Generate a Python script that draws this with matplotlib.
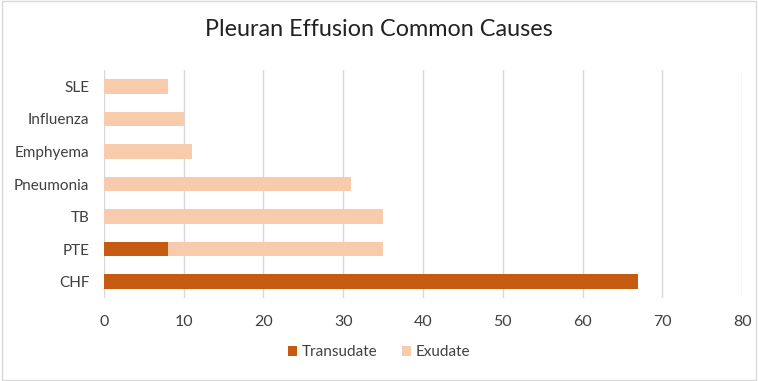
import matplotlib
matplotlib.use("Agg")
import matplotlib.pyplot as plt
from matplotlib.patches import Rectangle

plt.rcParams["font.family"] = ["Lato", "DejaVu Sans"]

# data
causes = ["CHF", "PTE", "TB", "Pneumonia", "Emphyema", "Influenza", "SLE"]
transudate = [67, 8, 0, 0, 0, 0, 0]
exudate = [0, 27, 35, 31, 11, 10, 8]

c_trans = "#C55A11"
c_exu = "#F8CBAD"

fig = plt.figure(figsize=(7.58, 3.81), dpi=100)
ax = fig.add_axes([0.137, 0.218, 0.842, 0.598])

ypos = list(range(len(causes)))
ax.barh(ypos, transudate, height=0.45, color=c_trans, label="Transudate")
ax.barh(ypos, exudate, left=transudate, height=0.45, color=c_exu, label="Exudate")

ax.set_xlim(0, 80)
ax.set_ylim(-0.5, 6.5)
ax.set_xticks(range(0, 81, 10))
ax.set_yticks(ypos)
ax.set_yticklabels(causes)
ax.tick_params(axis="both", length=0, colors="#404040")
ax.tick_params(axis="x", pad=12, labelsize=11.5)
ax.tick_params(axis="y", pad=10.5, labelsize=11)
ax.grid(axis="x", color="#D9D9D9", linewidth=1)
ax.set_axisbelow(True)
for s in ax.spines.values():
    s.set_visible(False)

fig.suptitle("Pleuran Effusion Common Causes", y=0.95, fontsize=16.8, color="#222222")

leg = fig.legend(loc="center", bbox_to_anchor=(0.5, 0.075), ncol=2, frameon=False,
                 fontsize=11, handlelength=0.6, handleheight=0.6, columnspacing=1.6,
                 handletextpad=0.3)
for t in leg.get_texts():
    t.set_color("#404040")

# light outer border
fig.patches.append(Rectangle((0.002, 0.003), 0.996, 0.994, transform=fig.transFigure,
                             fill=False, edgecolor="#D9D9D9", linewidth=1))

fig.savefig("out.png", dpi=100)
